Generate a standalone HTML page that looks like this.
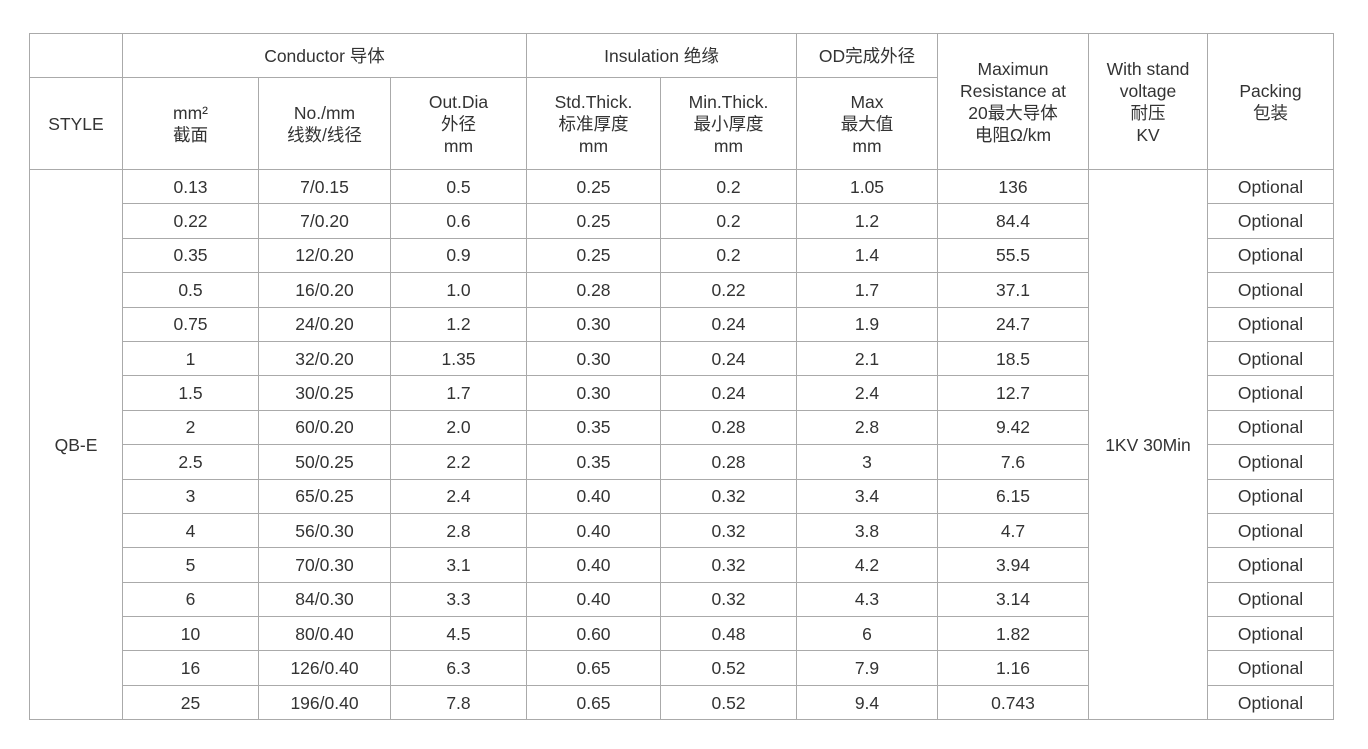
<!DOCTYPE html>
<html><head><meta charset="utf-8"><style>
body{margin:0;background:#fff;width:1368px;height:749px;overflow:hidden;}
table{position:absolute;left:29px;top:33px;border-collapse:collapse;table-layout:fixed;font-family:"Liberation Sans","Noto Sans CJK SC",sans-serif;color:#333;}
td{border:1px solid #aaa;text-align:center;vertical-align:middle;padding:0;font-size:17.5px;line-height:22px;}
tr.d td{height:33.4px;}
</style></head><body>
<table>
<colgroup><col style="width:93px"><col style="width:136px"><col style="width:132px"><col style="width:136px"><col style="width:134px"><col style="width:136px"><col style="width:141px"><col style="width:151px"><col style="width:119px"><col style="width:126px"></colgroup>
<tr style="height:44px"><td></td><td colspan="3">Conductor 导体</td><td colspan="2">Insulation 绝缘</td><td>OD完成外径</td><td rowspan="2">Maximun<br>Resistance at<br>20最大导体<br>电阻Ω/km</td><td rowspan="2">With stand<br>voltage<br>耐压<br>KV</td><td rowspan="2">Packing<br>包装</td></tr>
<tr style="height:92px"><td>STYLE</td><td>mm²<br>截面</td><td>No./mm<br>线数/线径</td><td>Out.Dia<br>外径<br>mm</td><td>Std.Thick.<br>标准厚度<br>mm</td><td>Min.Thick.<br>最小厚度<br>mm</td><td>Max<br>最大值<br>mm</td></tr>
<tr class="d"><td rowspan="16">QB-E</td><td>0.13</td><td>7/0.15</td><td>0.5</td><td>0.25</td><td>0.2</td><td>1.05</td><td>136</td><td rowspan="16">1KV 30Min</td><td>Optional</td></tr>
<tr class="d"><td>0.22</td><td>7/0.20</td><td>0.6</td><td>0.25</td><td>0.2</td><td>1.2</td><td>84.4</td><td>Optional</td></tr>
<tr class="d"><td>0.35</td><td>12/0.20</td><td>0.9</td><td>0.25</td><td>0.2</td><td>1.4</td><td>55.5</td><td>Optional</td></tr>
<tr class="d"><td>0.5</td><td>16/0.20</td><td>1.0</td><td>0.28</td><td>0.22</td><td>1.7</td><td>37.1</td><td>Optional</td></tr>
<tr class="d"><td>0.75</td><td>24/0.20</td><td>1.2</td><td>0.30</td><td>0.24</td><td>1.9</td><td>24.7</td><td>Optional</td></tr>
<tr class="d"><td>1</td><td>32/0.20</td><td>1.35</td><td>0.30</td><td>0.24</td><td>2.1</td><td>18.5</td><td>Optional</td></tr>
<tr class="d"><td>1.5</td><td>30/0.25</td><td>1.7</td><td>0.30</td><td>0.24</td><td>2.4</td><td>12.7</td><td>Optional</td></tr>
<tr class="d"><td>2</td><td>60/0.20</td><td>2.0</td><td>0.35</td><td>0.28</td><td>2.8</td><td>9.42</td><td>Optional</td></tr>
<tr class="d"><td>2.5</td><td>50/0.25</td><td>2.2</td><td>0.35</td><td>0.28</td><td>3</td><td>7.6</td><td>Optional</td></tr>
<tr class="d"><td>3</td><td>65/0.25</td><td>2.4</td><td>0.40</td><td>0.32</td><td>3.4</td><td>6.15</td><td>Optional</td></tr>
<tr class="d"><td>4</td><td>56/0.30</td><td>2.8</td><td>0.40</td><td>0.32</td><td>3.8</td><td>4.7</td><td>Optional</td></tr>
<tr class="d"><td>5</td><td>70/0.30</td><td>3.1</td><td>0.40</td><td>0.32</td><td>4.2</td><td>3.94</td><td>Optional</td></tr>
<tr class="d"><td>6</td><td>84/0.30</td><td>3.3</td><td>0.40</td><td>0.32</td><td>4.3</td><td>3.14</td><td>Optional</td></tr>
<tr class="d"><td>10</td><td>80/0.40</td><td>4.5</td><td>0.60</td><td>0.48</td><td>6</td><td>1.82</td><td>Optional</td></tr>
<tr class="d"><td>16</td><td>126/0.40</td><td>6.3</td><td>0.65</td><td>0.52</td><td>7.9</td><td>1.16</td><td>Optional</td></tr>
<tr class="d"><td>25</td><td>196/0.40</td><td>7.8</td><td>0.65</td><td>0.52</td><td>9.4</td><td>0.743</td><td>Optional</td></tr>
</table>
</body></html>
